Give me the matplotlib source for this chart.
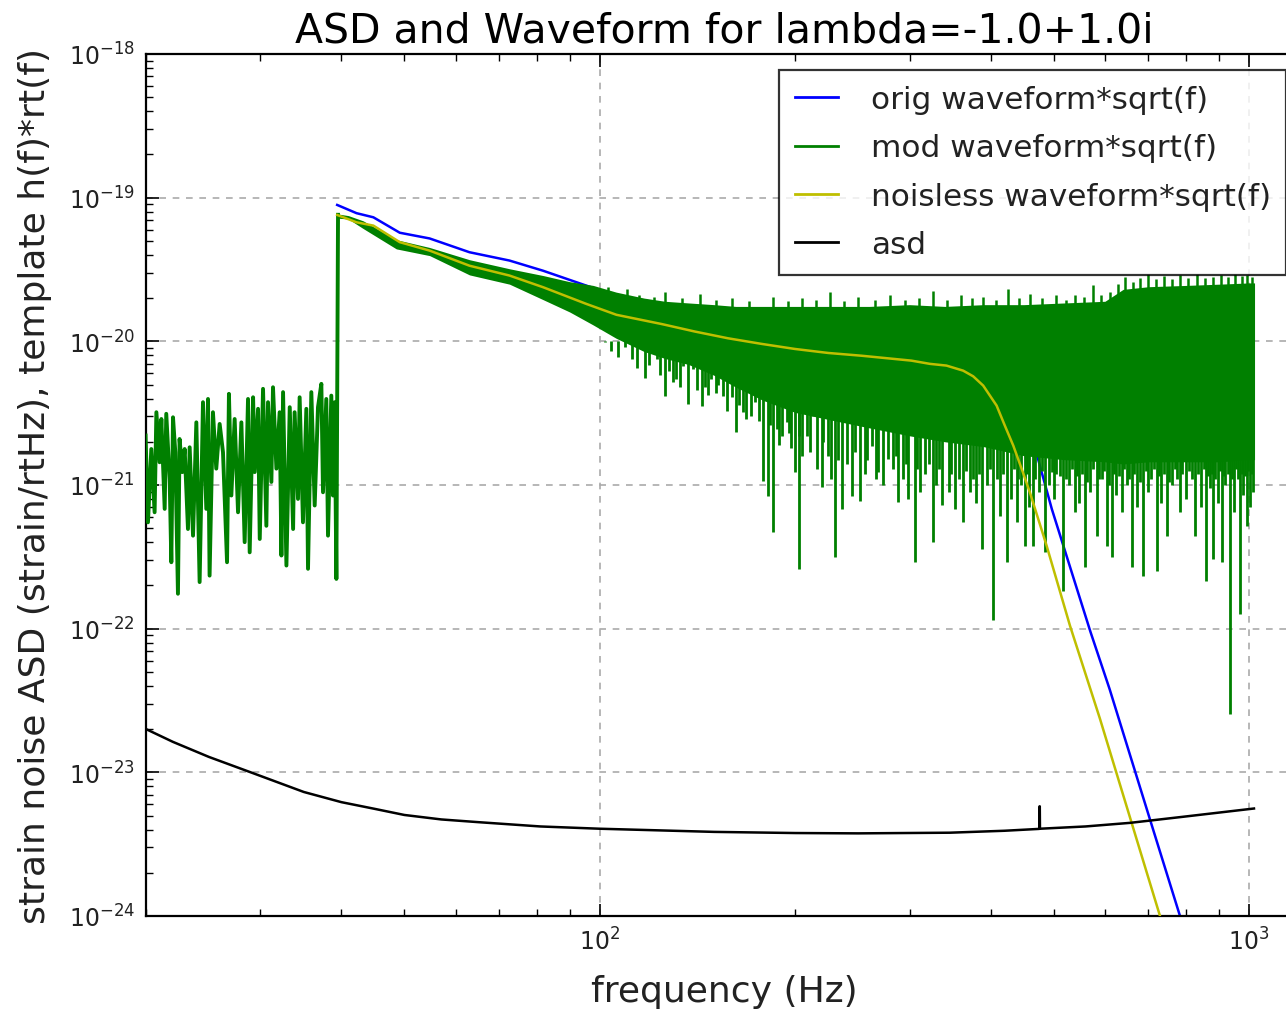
import matplotlib
matplotlib.use("Agg")
import matplotlib.pyplot as plt
from matplotlib.lines import Line2D
from matplotlib.ticker import FixedLocator

# ---------------- data ----------------
orig_f = [39.4, 42.2, 44.8, 49.2, 54.7, 63.0, 72.6, 81.8, 95.4, 106.0, 143.5, 200, 253, 322,
          363, 380, 395, 408, 420, 433, 445, 458, 470, 497, 530, 570, 610, 700, 783, 850]
orig_v = [8.9e-20, 7.8e-20, 7.3e-20, 5.7e-20, 5.2e-20, 4.17e-20, 3.65e-20, 3.1e-20, 2.44e-20,
          2.08e-20, 1.64e-20, 1.3e-20, 1.15e-20, 1.02e-20, 9.4e-21, 8.9e-21, 8.2e-21, 7.3e-21,
          6.2e-21, 4.9e-21, 3.6e-21, 2.5e-21, 1.7e-21, 6.8e-22, 2.7e-22, 9.5e-23, 3.8e-23,
          5.1e-24, 1.0e-24, 3.1e-25]

noiseless_f = [39.4, 42.2, 44.8, 49.2, 54.7, 63.0, 72.6, 81.8, 95.4, 106.1, 124.5, 140.1, 157.6,
               177.5, 199.8, 224.8, 253.1, 302, 322.5, 342, 362.9, 376, 389.6, 399, 408.6, 420.7,
               433.5, 446.4, 459.7, 487.8, 530, 589.5, 729.4, 800]
noiseless_v = [7.58e-20, 6.74e-20, 6.39e-20, 4.9e-20, 4.28e-20, 3.36e-20, 2.87e-20, 2.38e-20,
               1.82e-20, 1.53e-20, 1.32e-20, 1.17e-20, 1.05e-20, 9.6e-21, 8.85e-21, 8.3e-21,
               7.94e-21, 7.34e-21, 6.97e-21, 6.78e-21, 6.25e-21, 5.71e-21, 4.92e-21, 4.19e-21,
               3.57e-21, 2.59e-21, 1.88e-21, 1.3e-21, 8.9e-22, 3.79e-22, 1.05e-22, 2.36e-23,
               1.0e-24, 2.5e-25]

asd_f = [20, 22, 25, 29, 35, 40, 45, 50, 57, 65, 81, 100, 150, 200, 250, 346, 420, 475.5, 475.8,
         476.2, 476.5, 560, 656, 790, 1018]
asd_v = [2.0e-23, 1.63e-23, 1.28e-23, 1.0e-23, 7.3e-24, 6.2e-24, 5.57e-24, 5.05e-24, 4.7e-24,
         4.5e-24, 4.2e-24, 4.05e-24, 3.85e-24, 3.78e-24, 3.76e-24, 3.8e-24, 3.92e-24, 4.04e-24,
         5.8e-24, 5.8e-24, 4.05e-24, 4.2e-24, 4.45e-24, 4.9e-24, 5.6e-24]

# modified (noisy) waveform, low-frequency part (noise only, below 40 Hz)
mod_low_f = [19.97, 20.14, 20.38, 20.62, 20.75, 20.99, 21.12, 21.37, 21.49, 21.75, 21.88, 22.01,
             22.19, 22.40, 22.53, 22.75, 22.94, 23.21, 23.35, 23.63, 23.91, 24.19, 24.48, 24.77,
             24.92, 25.06, 25.36, 25.66, 25.97, 26.28, 26.66, 26.84, 27.07, 27.39, 27.72, 28.05,
             28.38, 28.72, 28.89, 29.24, 29.41, 29.76, 29.94, 30.29, 30.65, 30.83, 31.20, 31.38,
             31.76, 32.13, 32.33, 32.52, 32.91, 33.30, 33.70, 33.88, 34.29, 34.49, 34.90, 35.32,
             35.53, 35.95, 36.38, 36.81, 37.25, 37.47, 37.91, 38.14, 38.59, 38.82, 39.06, 39.29,
             39.52]
mod_low_v = [2.21e-21, 5.5e-22, 1.78e-21, 6.46e-22, 3.21e-21, 1.44e-21, 2.88e-21, 6.82e-22,
             3.13e-21, 1.10e-21, 2.9e-22, 2.96e-21, 1.69e-21, 1.75e-22, 2.09e-21, 1.23e-21,
             1.78e-21, 4.94e-22, 1.83e-21, 4.44e-22, 2.73e-21, 2.11e-22, 3.77e-21, 6.82e-22,
             3.97e-21, 2.34e-22, 3.21e-21, 1.30e-21, 2.66e-21, 1.69e-21, 2.9e-22, 4.31e-21,
             8.45e-22, 2.88e-21, 6.46e-22, 2.73e-21, 4.0e-22, 3.97e-21, 3.4e-22, 4.08e-21,
             1.23e-21, 3.39e-21, 4.21e-22, 4.67e-21, 5.2e-22, 3.77e-21, 1.05e-21, 4.79e-21,
             1.30e-21, 3.21e-21, 3.23e-22, 4.43e-21, 2.75e-22, 3.48e-21, 4.94e-22, 3.21e-21,
             8.0e-22, 4.08e-21, 5.5e-22, 3.39e-21, 2.61e-22, 4.43e-21, 7.2e-22, 3.48e-21,
             5.06e-21, 8.9e-22, 3.97e-21, 4.44e-22, 4.19e-21, 8.45e-22, 3.77e-21, 2.22e-22,
             7.6e-20]

# modified waveform above 40 Hz: dense band (upper / lower edge of the solid region)
mod_band_f = [39.52, 41, 43.2, 48.6, 54.7, 63, 72.6, 81.8, 89.9, 97.7, 106, 117, 126, 137, 150,
              162, 178, 200, 230, 260, 300, 340, 390, 450, 520, 600, 640, 700, 800, 900, 1000,
              1020]
mod_band_hi = [7.7e-20, 7.5e-20, 6.9e-20, 5.1e-20, 4.5e-20, 3.7e-20, 3.2e-20, 2.87e-20, 2.6e-20,
               2.45e-20, 2.2e-20, 2.0e-20, 1.9e-20, 1.85e-20, 1.8e-20, 1.75e-20, 1.75e-20,
               1.75e-20, 1.75e-20, 1.75e-20, 1.8e-20, 1.75e-20, 1.8e-20, 1.8e-20, 1.85e-20,
               1.9e-20, 2.3e-20, 2.4e-20, 2.45e-20, 2.5e-20, 2.55e-20, 2.55e-20]
mod_band_lo = [7.2e-20, 7.1e-20, 6.1e-20, 4.4e-20, 3.95e-20, 2.9e-20, 2.5e-20, 1.95e-20, 1.6e-20,
               1.3e-20, 1.05e-20, 8.5e-21, 7.6e-21, 6.9e-21, 5.8e-21, 4.8e-21, 3.9e-21, 3.2e-21,
               2.8e-21, 2.5e-21, 2.2e-21, 2.0e-21, 1.85e-21, 1.6e-21, 1.5e-21, 1.45e-21, 1.4e-21,
               1.45e-21, 1.45e-21, 1.45e-21, 1.5e-21, 1.5e-21]

# downward noise spikes (frequency, tip value)
mod_dip_f = [101.8, 104, 106.5, 109.3, 112, 114, 117.3, 119, 122.3, 124, 126.0, 128, 129.7, 131,
             133, 134.4, 136.8, 139.3, 141, 143.5, 145, 147, 148.6, 151, 152, 154.9, 157, 159.6,
             162.4, 164, 166, 168, 171, 173.3, 176, 178.5, 181.7, 183, 184.9, 187.2, 189, 191,
             194.0, 196, 197, 199.8, 202.6, 203, 205, 208.2, 211, 213.2, 216, 219.6, 221, 224.8,
             227, 230.2, 233, 235.8, 240, 244.3, 247, 251.6, 256, 258, 262.2, 266, 268.5, 273,
             278.2, 283, 286, 288.2, 293, 296, 298.5, 305.8, 308, 311.3, 317, 322, 326.3, 330,
             333, 336.1, 345, 348, 352.4, 358, 362.9, 366, 371.6, 376, 380, 384, 387.3, 395, 399,
             403.7, 409, 413.4, 418, 423.3, 430, 434, 438.6, 441, 445, 451.7, 455, 458, 465.3,
             469, 475, 480, 485.0, 492, 496.6, 500, 505, 512, 517.5, 522, 528, 534, 539.4, 544,
             548, 553, 558.9, 564, 570, 576, 582.5, 588, 593, 598, 603.5, 608, 614.3, 620, 625,
             631, 636.5, 642, 648, 654, 659.5, 666, 672, 680, 687.5, 694, 700, 707, 714, 720.8,
             727, 733, 740, 746.8, 753, 760, 768, 776, 783.0, 790, 800, 808, 816, 825.6, 835,
             845, 852, 858.6, 864, 870, 876, 881.3, 888, 895, 901, 907.7, 914, 920, 928, 934.9,
             942, 950, 956, 962, 968.6, 975, 980, 986, 991.8, 998, 1005, 1010, 1015]
mod_dip_v = [9.86e-21, 8.5e-21, 7.8e-21, 9.1e-21, 7.5e-21, 6.5e-21, 5.6e-21, 6.8e-21, 7.55e-21,
             5.8e-21, 4.19e-21, 6.2e-21, 5.19e-21, 5.5e-21, 4.8e-21, 6.78e-21, 3.67e-21, 6.43e-21,
             4.6e-21, 3.57e-21, 4.8e-21, 4.2e-21, 5.47e-21, 4.4e-21, 5.0e-21, 4.19e-21, 3.3e-21,
             4.08e-21, 2.33e-21, 3.6e-21, 3.2e-21, 2.9e-21, 3.0e-21, 3.77e-21, 2.8e-21, 1.07e-21,
             8.45e-22, 2.6e-21, 4.7e-22, 2.46e-21, 1.9e-21, 2.2e-21, 2.74e-21, 2.3e-21, 1.8e-21,
             1.23e-21, 2.61e-22, 2.2e-21, 1.6e-21, 2.21e-21, 1.7e-21, 3.04e-21, 1.3e-21, 9.66e-22,
             2.0e-21, 1.6e-21, 1.1e-21, 3.14e-22, 1.5e-21, 6.82e-22, 1.4e-21, 8.45e-22, 1.7e-21,
             7.78e-22, 1.2e-21, 1.5e-21, 1.88e-21, 1.1e-21, 1.23e-21, 1.0e-21, 1.52e-21, 1.3e-21,
             1.6e-21, 7.59e-22, 1.1e-21, 1.4e-21, 8.0e-22, 2.9e-22, 1.3e-21, 8.9e-22, 1.2e-21,
             1.4e-21, 4.0e-22, 1.0e-21, 1.3e-21, 7.2e-22, 9.0e-22, 1.2e-21, 6.82e-22, 1.1e-21,
             5.5e-22, 1.25e-21, 8.9e-22, 1.1e-21, 7.5e-22, 1.2e-21, 3.59e-22, 1.0e-21, 1.3e-21,
             1.14e-22, 1.1e-21, 6.12e-22, 1.2e-21, 2.9e-22, 8.0e-22, 1.3e-21, 5.5e-22, 1.1e-21,
             1.0e-21, 3.79e-22, 1.2e-21, 7.0e-22, 3.79e-22, 1.1e-21, 9.0e-22, 1.25e-21, 3.4e-22,
             1.0e-21, 1.23e-21, 8.0e-22, 1.2e-21, 1.15e-21, 1.84e-22, 1.1e-21, 1.0e-21, 1.3e-21,
             6.46e-22, 1.15e-21, 7.5e-22, 1.2e-21, 2.68e-22, 1.05e-21, 9.0e-22, 1.3e-21, 4.44e-22,
             1.1e-21, 1.1e-21, 1.25e-21, 3.79e-22, 1.0e-21, 3.14e-22, 1.2e-21, 8.5e-22, 1.15e-21,
             6.46e-22, 1.3e-21, 1.0e-21, 1.1e-21, 2.68e-22, 1.2e-21, 7.0e-22, 1.05e-21, 2.34e-22,
             1.25e-21, 9.0e-22, 1.1e-21, 1.3e-21, 2.54e-22, 1.15e-21, 7.5e-22, 1.2e-21, 4.44e-22,
             1.05e-21, 1.0e-21, 1.3e-21, 1.1e-21, 6.46e-22, 1.2e-21, 8.0e-22, 1.25e-21, 1.1e-21,
             4.44e-22, 1.2e-21, 7.0e-22, 1.3e-21, 2.16e-22, 1.15e-21, 9.5e-22, 1.2e-21, 3.06e-22,
             1.1e-21, 7.5e-22, 1.25e-21, 2.9e-22, 1.15e-21, 1.0e-21, 1.2e-21, 2.55e-23, 1.1e-21,
             6.5e-22, 1.3e-21, 1.1e-21, 1.27e-22, 1.2e-21, 8.5e-22, 1.15e-21, 5.22e-22, 1.25e-21,
             7.0e-22, 1.2e-21, 9.0e-22]

# upward noise spikes (frequency, tip value)
mod_peak_f = [103, 110, 115, 121, 126, 134, 142.6, 151, 160, 170, 185, 195, 205, 215, 226, 238,
              250, 265, 280, 295, 310, 326, 343, 360, 375, 390, 407, 425, 442, 460, 480, 505,
              522, 540, 558, 575, 592, 610, 628, 645, 662, 680, 700, 720, 740, 760, 782, 805,
              832, 855, 880, 905, 930, 952, 975, 994, 1010]
mod_peak_v = [2.4e-20, 2.3e-20, 2.1e-20, 2.05e-20, 2.2e-20, 2.0e-20, 2.15e-20, 1.95e-20, 2.0e-20,
              1.9e-20, 2.05e-20, 1.9e-20, 2.0e-20, 1.95e-20, 2.2e-20, 1.9e-20, 2.05e-20, 1.95e-20,
              2.1e-20, 1.95e-20, 2.0e-20, 2.25e-20, 1.95e-20, 2.1e-20, 2.0e-20, 2.05e-20,
              1.95e-20, 2.3e-20, 2.0e-20, 2.15e-20, 2.0e-20, 2.1e-20, 1.95e-20, 2.1e-20, 2.05e-20,
              2.45e-20, 2.1e-20, 2.2e-20, 2.5e-20, 2.8e-20, 2.6e-20, 2.75e-20, 2.95e-20, 2.7e-20,
              2.85e-20, 2.7e-20, 2.9e-20, 2.75e-20, 2.95e-20, 2.75e-20, 2.8e-20, 2.9e-20, 2.8e-20,
              2.95e-20, 2.85e-20, 2.9e-20, 2.8e-20]

x_major_ticks = [1e2, 1e3]
y_major_ticks = [1e-24, 1e-23, 1e-22, 1e-21, 1e-20, 1e-19, 1e-18]

labels = ["orig waveform*sqrt(f)", "mod waveform*sqrt(f)",
          "noisless waveform*sqrt(f)", "asd"]
title = "ASD and Waveform for lambda=-1.0+1.0i"

# ---------------- figure ----------------
plt.rcParams["font.family"] = ["DejaVu Sans"]
plt.rcParams["mathtext.default"] = "regular"
plt.rcParams["axes.unicode_minus"] = False

W, H = 1286, 1012
fig = plt.figure(figsize=(W / 100, H / 100), dpi=100, facecolor="white")
ax = fig.add_axes([146 / W, (H - 917) / H, (1302 - 146) / W, (917 - 55) / H])

c_blue, c_green, c_yel, c_blk = "#0000ff", "#008000", "#bfbf00", "black"
lw = 1.8

ax.plot(orig_f, orig_v, color=c_blue, lw=lw, zorder=2)
ax.plot(mod_low_f, mod_low_v, color=c_green, lw=2.8, zorder=3)
ax.fill_between(mod_band_f, mod_band_lo, mod_band_hi, color=c_green, lw=0, zorder=3)
ax.vlines(mod_dip_f, mod_dip_v, 1.0e-20, color=c_green, lw=2.0, zorder=3)
ax.vlines(mod_peak_f, 1.5e-20, mod_peak_v, color=c_green, lw=1.8, zorder=3)
ax.plot(noiseless_f, noiseless_v, color=c_yel, lw=lw, zorder=4)
ax.plot(asd_f, asd_v, color=c_blk, lw=lw, zorder=5)

ax.set_xscale("log")
ax.set_yscale("log")
ax.set_xlim(20, 1207)
ax.set_ylim(1e-24, 1e-18)
ax.xaxis.set_major_locator(FixedLocator(x_major_ticks))
ax.yaxis.set_major_locator(FixedLocator(y_major_ticks))

ax.grid(True, which="major", color="#aaaaaa", linestyle=(0, (4, 4)), lw=1.2)
ax.tick_params(which="both", direction="in", top=True, right=True, colors="black",
               labelsize=17, labelcolor="#222222")
ax.tick_params(which="major", length=9, width=1.2, pad=8)
ax.tick_params(which="minor", length=5, width=1.0)
for s in ax.spines.values():
    s.set_linewidth(1.6)

ax.set_title(title, fontsize=29.5, pad=9)
ax.set_xlabel("frequency (Hz)", fontsize=26, labelpad=14, color="#222222")
ax.set_ylabel("strain noise ASD (strain/rtHz), template h(f)*rt(f)", fontsize=26,
              labelpad=12, color="#222222")

handles = [Line2D([], [], color=c, lw=2.0) for c in (c_blue, c_green, c_yel, c_blk)]
leg = ax.legend(handles, labels, loc="upper right", fontsize=22.4,
                frameon=True, fancybox=False, borderaxespad=0.5, handlelength=1.4,
                handletextpad=1.05, borderpad=0.5, labelspacing=0.62)
leg.get_frame().set_edgecolor("black")
leg.get_frame().set_linewidth(1.6)
for t in leg.get_texts():
    t.set_color("#222222")

fig.savefig("out.png", dpi=100, facecolor="white")
